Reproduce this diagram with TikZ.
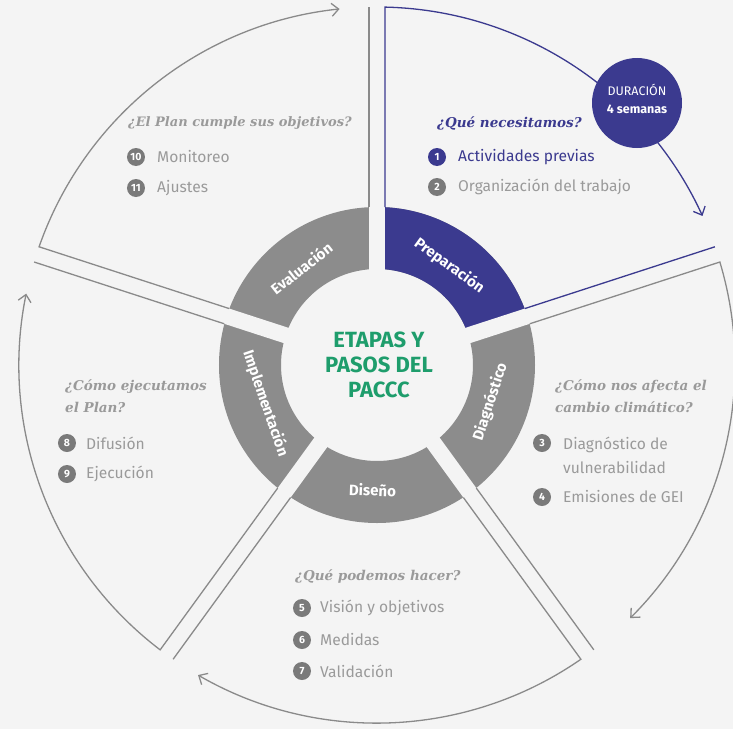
\documentclass[tikz,border=0pt]{standalone}
\usepackage{fontspec}
\setmainfont{Fira Sans}
\newfontfamily\qfont{DejaVu Serif}
\usetikzlibrary{arrows.meta,calc}
\definecolor{bg}{HTML}{F4F4F4}
\definecolor{pblue}{HTML}{3B3A8F}
\definecolor{rgray}{HTML}{8C8C8C}
\definecolor{lgray}{HTML}{8A8A8A}
\definecolor{tgray}{HTML}{9A9A9A}
\definecolor{cgray}{HTML}{7A7A7A}
\definecolor{pgreen}{HTML}{1E9D6C}
\begin{document}
\begin{tikzpicture}[x=1pt,y=1pt,
  panel/.style={draw=lgray, line width=1.3pt},
  arr/.style={-{Straight Barb[length=7pt,width=13pt]}},
  question/.style={font=\qfont\bfseries\itshape\fontsize{13.5}{22}\selectfont, text=tgray, anchor=west, inner sep=0, align=left},
  item/.style={font=\fontsize{15.6}{24}\selectfont, text=tgray, anchor=west, inner sep=0, align=left},
  num/.style={circle, fill=cgray, text=white, minimum size=18pt, inner sep=0, font=\bfseries\fontsize{10.5}{10.5}\selectfont},
  ringlabel/.style={text=white, inner sep=0, font=\bfseries\fontsize{15}{15}\selectfont},
]
\fill[bg] (-377,-364) rectangle (356,365);
\useasboundingbox (-377,-364) rectangle (356,365);

% ring
\fill[rgray, even odd rule] (0,0) circle[radius=158] (0,0) circle[radius=96];
\fill[pblue] (90:158) arc[start angle=90, end angle=18, radius=158] -- (18:96) arc[start angle=18, end angle=90, radius=96] -- cycle;
\foreach \a in {90,18,-54,-126,162} \draw[bg, line width=16pt] (0,0) -- (\a:175);

% panels: edge joined to arc with arrow
\foreach \a/\e/\c in {90/24.6/pblue, 18/-45/lgray, -54/-120/lgray, -126/-191.5/lgray, 162/96/lgray}
  \draw[panel, draw=\c, arr] ($(\a:158)+(\a-90:8)$) -- ($(\a:357.9)+(\a-90:8)$) arc[start angle=\a-1.28, end angle=\e, radius=358];
% panels: free edges
\foreach \a/\c in {90/lgray, 18/pblue, -54/lgray, -126/lgray, 162/lgray}
  \draw[panel, draw=\c] ($(\a:158)+(\a+90:8)$) -- ($(\a:357.9)+(\a+90:8)$);

% centre
\node[text=pgreen, align=center, font=\bfseries\fontsize{22}{25}\selectfont] (title) at (2,0) {ETAPAS Y\\PASOS DEL\\PACCC};

% ring labels
\node[ringlabel, rotate=-36] (lprep) at (54:123) {Preparación};
\node[ringlabel, rotate=38] (leval) at (128:123) {Evaluación};
\node[ringlabel, rotate=-71] (limpl) at (199:118) {Implementación};
\node[ringlabel, rotate=-2] (ldis) at (-92:125) {Diseño};
\node[ringlabel, rotate=72] (ldiag) at (-18:119) {Diagnóstico};

% duration
\node[circle, fill=pblue, minimum size=90pt, inner sep=0] (dur) at (260,262) {};
\node[text=white, align=center, inner sep=0, font=\fontsize{12.5}{18}\selectfont] (durt) at (260,266) {DURACIÓN\\\textbf{4 semanas}};

% Preparación
\node[question, text=pblue] (q1) at (60,242) {¿Qué necesitamos?};
\node[num, fill=pblue] (n1) at (60,208) {1};
\node[item, text=pblue] (t1) at (81,208) {Actividades previas};
\node[num] (n2) at (60,178) {2};
\node[item] (t2) at (81,178) {Organización del trabajo};

% Evaluación
\node[question, font=\qfont\bfseries\itshape\fontsize{13}{22}\selectfont] (q5) at (-249,242) {¿El Plan cumple sus objetivos?};
\node[num] (n10) at (-241,208) {10};
\node[item] (t10) at (-220,208) {Monitoreo};
\node[num] (n11) at (-241,177) {11};
\node[item] (t11) at (-220,177) {Ajustes};

% Implementación
\node[question] (q4) at (-312,-31) {¿Cómo ejecutamos\\el Plan?};
\node[num] (n8) at (-310,-78) {8};
\node[item] (t8) at (-291,-78) {Difusión};
\node[num] (n9) at (-310,-109) {9};
\node[item] (t9) at (-291,-109) {Ejecución};

% Diagnóstico
\node[question] (q2) at (178,-31) {¿Cómo nos afecta el\\cambio climático?};
\node[num] (n3) at (165,-78) {3};
\node[item] (t3) at (186,-90) {Diagnóstico de\\vulnerabilidad};
\node[num] (n4) at (165,-132) {4};
\node[item] (t4) at (186,-132) {Emisiones de GEI};

% Diseño
\node[question] (q3) at (-82,-211) {¿Qué podemos hacer?};
\node[num] (n5) at (-75,-243) {5};
\node[item] (t5) at (-57,-243) {Visión y objetivos};
\node[num] (n6) at (-75,-275) {6};
\node[item] (t6) at (-57,-275) {Medidas};
\node[num] (n7) at (-75,-306) {7};
\node[item] (t7) at (-57,-306) {Validación};
\end{tikzpicture}
\end{document}
